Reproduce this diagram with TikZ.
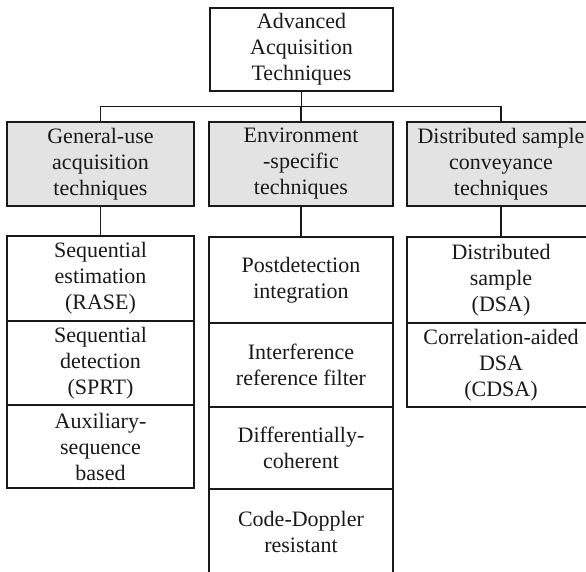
\documentclass[tikz,border=0pt]{standalone}
\usepackage{fontspec}
\setmainfont{Liberation Serif}
\begin{document}
\begin{tikzpicture}[x=1pt,y=-1pt,line width=1.3pt,
  box/.style={draw=black!90, rectangle, inner sep=0pt, align=center,
    font=\fontsize{22}{26}\selectfont, text=black!90},
  headbox/.style={box, fill=black!11},
  link/.style={draw=black!90}]
\useasboundingbox (0,0) rectangle (586,572);
% top
\node[box, minimum width=183pt, minimum height=83pt] (top) at (301.5,49.5) {Advanced\\Acquisition\\Techniques};
% row 2
\node[headbox, minimum width=187pt, minimum height=84pt] (gen) at (100.5,164) {General-use\\acquisition\\techniques};
\node[headbox, minimum width=184pt, minimum height=84pt] (env) at (301,164) {Environment\\-specific\\techniques};
\node[headbox, minimum width=188pt, minimum height=84pt] (dis) at (501,164) {Distributed sample\\conveyance\\techniques};
% left column
\node[box, minimum width=187pt, minimum height=85pt] (l1) at (100.5,278.5) {Sequential\\estimation\\(RASE)};
\node[box, minimum width=187pt, minimum height=84pt] (l2) at (100.5,363) {Sequential\\detection\\(SPRT)};
\node[box, minimum width=187pt, minimum height=83pt] (l3) at (100.5,446.5) {Auxiliary-\\sequence\\based};
% middle column
\node[box, minimum width=184pt, minimum height=86pt] (m1) at (301,280) {Postdetection\\integration};
\node[box, minimum width=184pt, minimum height=84pt] (m2) at (301,365) {Interference\\reference filter};
\node[box, minimum width=184pt, minimum height=82pt] (m3) at (301,448) {Differentially-\\coherent};
\node[box, minimum width=184pt, minimum height=86pt] (m4) at (301,532) {Code-Doppler\\resistant};
% right column
\node[box, minimum width=188pt, minimum height=86pt] (r1) at (501,280) {Distributed\\sample\\(DSA)};
\node[box, minimum width=188pt, minimum height=84pt] (r2) at (501,365) {Correlation-aided\\DSA\\(CDSA)};
% connectors
\draw[link] (top.south) -- ++(0,15) coordinate (bus);
\draw[link] (gen.north) |- (bus) -| (dis.north);
\draw[link] (env.north) -- (env.north |- bus);
\draw[link] (gen.south) -- (l1.north);
\draw[link] (env.south) -- (m1.north);
\draw[link] (dis.south) -- (r1.north);
\end{tikzpicture}
\end{document}
